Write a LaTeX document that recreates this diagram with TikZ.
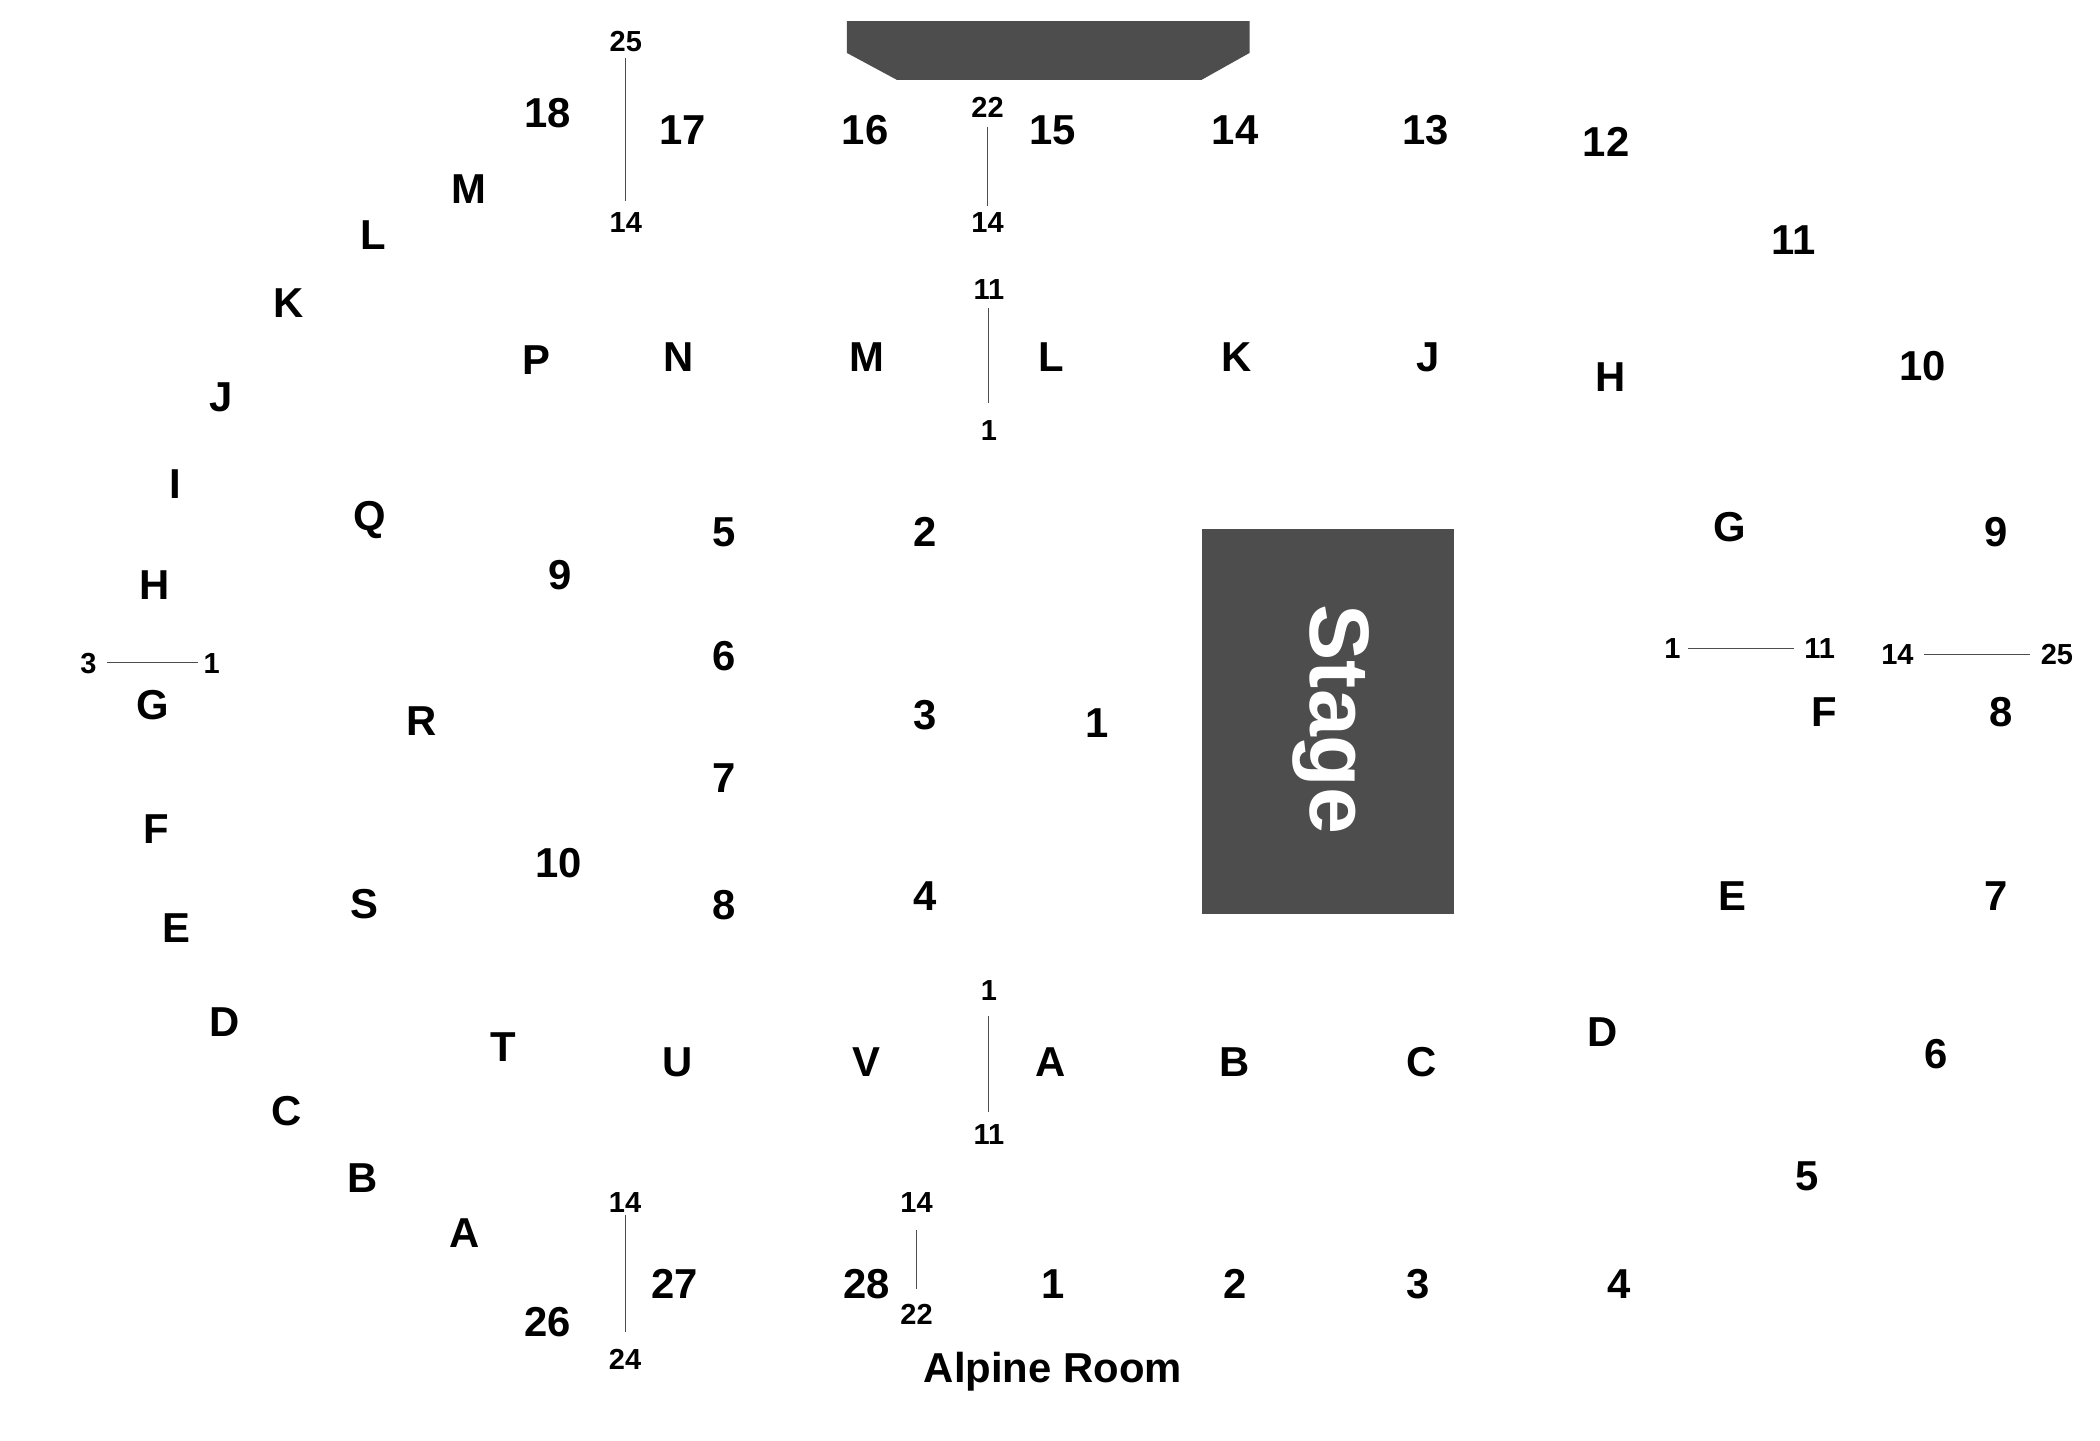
\documentclass[tikz,border=0pt]{standalone}
\usepackage{fontspec}
\setmainfont{Liberation Sans}
\usetikzlibrary{calc}
\definecolor{hallgray}{HTML}{4D4D4D}
\tikzset{
    seclabel/.style={inner sep=0pt, outer sep=0pt, xshift=0.5pt, text height=17pt, text depth=0pt, font=\fontsize{23.8pt}{26pt}\selectfont\bfseries},
    seatlabel/.style={inner sep=0pt, outer sep=0pt, text height=11.8pt, text depth=0pt, font=\fontsize{16.5pt}{18pt}\selectfont\bfseries},
    rowline/.style={draw=hallgray, line width=0.55pt},
    hallblock/.style={fill=hallgray, draw=none}
}

\begin{document}
\begin{tikzpicture}[x=0.0268cm, y=-0.0268cm]
        \useasboundingbox (0,0) rectangle (1567.16,1074.63);

        % balcony and stage
        \fill[hallblock] (632,15.7) -- (932.5,15.7) -- (932.5,39.5) -- (896.5,59.7) -- (669.5,59.7) -- (632,39.5) -- cycle;
        \node[hallblock, minimum width=188*0.0268cm, minimum height=287.3*0.0268cm, inner sep=0pt, outer sep=0pt] (stage) at (991,538.6) {};
        \node[rotate=-90, anchor=base, text=white, inner sep=0pt, font=\fontsize{48pt}{50pt}\selectfont\bfseries] (stagetext) at (978,537) {Stage};

        % sections, outer ring
        \foreach \txt/\px/\py [count=\i] in {18/408/84, 17/509/97, 16/645/97, 15/785/97, 14/921/97, 13/1063/97, 12/1198/106, 11/1338/179, 10/1434/273, 9/1489/397, 8/1493/531, 7/1489/668, 6/1444/786, 5/1348/877, 4/1208/958, 3/1058/958, 2/921/958, 1/785/958, 28/646/958, 27/503/958, 26/408/986}
            \node[seclabel] (ring\i) at (\px,\py) {\txt};

        % rows on the left
        \foreach \txt/\px/\py [count=\i] in {M/349/141, L/278/175, K/215/226, J/164/296, I/130/361, H/115/436, G/113/526, F/116/618, E/131/692, D/167/762, C/213/829, B/270/879, A/346/920}
            \node[seclabel] (left\i) at (\px,\py) {\txt};

        % inner rows
        \foreach \txt/\px/\py [count=\i] in {P/400/268, N/506/266, M/646/266, L/784/266, K/922/266, J/1065/266, H/1201/281, G/1290/393, F/1361/531, E/1292/668, D/1195/770, C/1060/792, B/921/792, A/783/792, V/646/792, U/505/792, T/375/781, S/271/674, R/314/538, Q/275/385}
            \node[seclabel] (inner\i) at (\px,\py) {\txt};

        % floor
        \foreach \txt/\px/\py [count=\i] in {9/417/429, 10/416/644, 5/540/397, 6/540/489, 7/540/580, 8/540/675, 2/690/397, 3/690/533, 4/690/668, 1/818/539}
            \node[seclabel] (floor\i) at (\px,\py) {\txt};

        \node[seclabel] (alpine) at (785,1020.5) {Alpine Room};

        % seat numbers, pairs joined below
        \foreach \nm/\txt/\px/\py in {sa/25/467/31, sb/14/467/166, ta/22/737/80, tb/14/737/166, ua/11/738/216, ub/1/738/321, va/1/738/739, vb/11/738/846, wa/14/466.5/897, wb/24/466.5/1014, xa/14/684/897, xb/22/684/981, ya/1/1248/484, yb/11/1358/484, za/14/1416/488.5, zb/25/1535/488.5, qa/3/66/494.5, qb/1/158/494.5}
            \node[seatlabel] (\nm) at (\px,\py) {\txt};

        \foreach \from/\to/\sa/\sb in {sa/sb/12/16, ta/tb/14.5/12, ua/ub/14/20, va/vb/19/16, wa/wb/10/20, xa/xb/21/19, ya/yb/12/19, za/zb/20/20, qa/qb/14/10}
            \draw[rowline, shorten <=\sa*0.76pt, shorten >=\sb*0.76pt] (\from.center) -- (\to.center);
    \end{tikzpicture}
\end{document}
